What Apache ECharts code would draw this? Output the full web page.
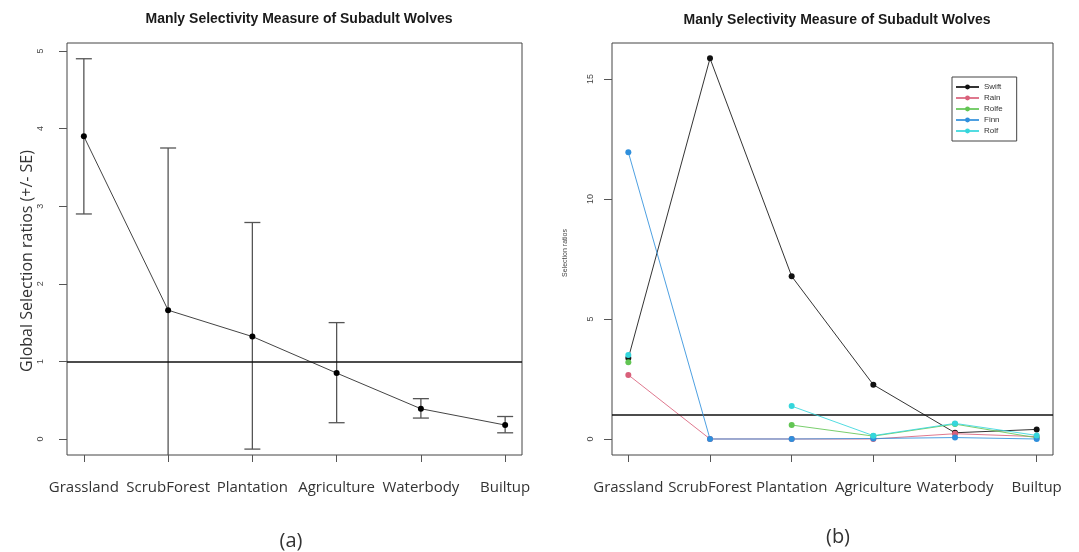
<!DOCTYPE html>
<html>
<head>
<meta charset="utf-8">
<script src="https://cdn.jsdelivr.net/npm/echarts@6/dist/echarts.min.js"></script>
<style>
  html, body { margin: 0; padding: 0; background: #fff; }
  #chart { width: 1079px; height: 552px; }
</style>
</head>
<body>
<div id="chart"></div>
<script>
// Habitat classes along the x axis
const categories = ['Grassland', 'ScrubForest', 'Plantation', 'Agriculture', 'Waterbody', 'Builtup'];

// (a) global selection ratios with +/- SE limits
const globalRatio = [3.90, 1.66, 1.32, 0.85, 0.39, 0.18];
const seUpper     = [4.90, 3.75, 2.79, 1.50, 0.52, 0.29];
const seLower     = [2.90, -0.43, -0.13, 0.21, 0.27, 0.08];

// (b) per-wolf selection ratios ('-' = no value)
const wolfNames = ['Swift', 'Rain', 'Rolfe', 'Finn', 'Rolf'];
const swift = [3.37, 15.86, 6.78, 2.26, 0.26, 0.40];
const rain  = [2.67, 0, 0, 0, 0.22, 0.10];
const rolfe = [3.20, '-', 0.58, 0.12, 0.62, 0.05];
const finn  = [11.95, 0, 0, 0.02, 0.06, 0.00];
const rolf  = [3.50, '-', 1.37, 0.14, 0.65, 0.15];
const wolfColors = ['#111111', '#d9607a', '#62c553', '#2f8fdc', '#35d6dc'];

// Tick values
const leftTicks = [0, 1, 2, 3, 4, 5];
const rightTicks = [0, 5, 10, 15];
const xTicks = categories.map((c, i) => i + 1);

const chart = echarts.init(document.getElementById('chart'));

const toXY = arr => arr.map((v, i) => [i + 1, v]);

const tickLine = { color: '#555', width: 1 };

function xAxisFor(gridIndex) {
  return {
    type: 'value', gridIndex: gridIndex, min: 0.8, max: 6.2,
    axisLine: { show: false, onZero: false },
    splitLine: { show: false },
    axisTick: { show: true, inside: false, length: 7, customValues: xTicks, lineStyle: tickLine },
    axisLabel: {
      customValues: xTicks, margin: 25,
      fontFamily: 'Open Sans', fontSize: 15, color: '#333',
      formatter: v => categories[Math.round(v) - 1] || ''
    }
  };
}

function yAxisFor(gridIndex, min, max, ticks, margin) {
  return {
    type: 'value', gridIndex: gridIndex, min: min, max: max,
    axisLine: { show: false, onZero: false },
    splitLine: { show: false },
    axisTick: { show: true, inside: false, length: 8, customValues: ticks, lineStyle: tickLine },
    axisLabel: {
      customValues: ticks, rotate: 90, margin: margin,
      fontFamily: 'Liberation Sans', fontSize: 9, color: '#444'
    }
  };
}

// Error bars with caps, clipped to the plot box
function renderErrorBar(params, api) {
  const x = api.value(0), lo = api.value(1), hi = api.value(2);
  const cs = params.coordSys;
  const top = cs.y, bottom = cs.y + cs.height;
  const pHi = api.coord([x, hi]);
  const pLo = api.coord([x, lo]);
  const half = 8;
  const style = { stroke: '#555', lineWidth: 1.3 };
  const yTop = Math.max(pHi[1], top);
  const yBot = Math.min(pLo[1], bottom);
  const children = [
    { type: 'line', shape: { x1: pHi[0], y1: yTop, x2: pLo[0], y2: yBot }, style: style }
  ];
  if (pHi[1] >= top) {
    children.push({ type: 'line', shape: { x1: pHi[0] - half, y1: pHi[1], x2: pHi[0] + half, y2: pHi[1] }, style: style });
  }
  if (pLo[1] <= bottom) {
    children.push({ type: 'line', shape: { x1: pLo[0] - half, y1: pLo[1], x2: pLo[0] + half, y2: pLo[1] }, style: style });
  }
  return { type: 'group', children: children };
}

const refLine = {
  silent: true, symbol: 'none', label: { show: false },
  lineStyle: { color: '#111', width: 1.6, type: 'solid' },
  data: [{ yAxis: 1 }]
};

const wolfSeries = [swift, rain, rolfe, finn, rolf].map((arr, k) => ({
  type: 'line', name: wolfNames[k], xAxisIndex: 1, yAxisIndex: 1,
  data: toXY(arr), connectNulls: false,
  symbol: 'circle', symbolSize: 6, showSymbol: true,
  itemStyle: { color: wolfColors[k] },
  lineStyle: { color: wolfColors[k], width: 1, opacity: 0.85 },
  emphasis: { disabled: true },
  z: 3 + k
}));

const option = {
  animation: false,
  backgroundColor: '#ffffff',
  title: [
    {
      text: 'Manly Selectivity Measure of Subadult Wolves',
      left: 294, top: 7, textAlign: 'center',
      textStyle: { fontFamily: 'Liberation Sans', fontWeight: 'bold', fontSize: 14, color: '#1a1a1a' }
    },
    {
      text: 'Manly Selectivity Measure of Subadult Wolves',
      left: 832, top: 8, textAlign: 'center',
      textStyle: { fontFamily: 'Liberation Sans', fontWeight: 'bold', fontSize: 14, color: '#1a1a1a' }
    }
  ],
  grid: [
    { left: 67, top: 43, width: 455, height: 412, show: true, borderColor: '#444', borderWidth: 1, backgroundColor: 'transparent' },
    { left: 612, top: 43, width: 441, height: 412, show: true, borderColor: '#444', borderWidth: 1, backgroundColor: 'transparent' }
  ],
  xAxis: [xAxisFor(0), xAxisFor(1)],
  yAxis: [
    yAxisFor(0, -0.206, 5.103, leftTicks, 22),
    yAxisFor(1, -0.667, 16.5, rightTicks, 17)
  ],
  legend: {
    data: wolfNames,
    orient: 'vertical',
    left: 952, top: 77,
    borderColor: '#444', borderWidth: 1,
    padding: [6, 14, 6, 3],
    itemWidth: 23, itemHeight: 6, itemGap: 3,
    backgroundColor: '#fff',
    textStyle: { fontFamily: 'Liberation Sans', fontSize: 8, color: '#333' },
    selectedMode: false
  },
  series: [
    {
      type: 'custom', xAxisIndex: 0, yAxisIndex: 0,
      renderItem: renderErrorBar,
      data: categories.map((c, i) => [i + 1, seLower[i], seUpper[i]]),
      z: 2, silent: true
    },
    {
      type: 'line', xAxisIndex: 0, yAxisIndex: 0,
      data: toXY(globalRatio),
      symbol: 'circle', symbolSize: 6,
      itemStyle: { color: '#000' },
      lineStyle: { color: '#444', width: 1 },
      markLine: refLine,
      z: 3, silent: true
    },
    {
      type: 'line', xAxisIndex: 1, yAxisIndex: 1,
      data: [], markLine: refLine, silent: true
    }
  ].concat(wolfSeries),
  graphic: [
    {
      type: 'text', x: 27, y: 261, rotation: Math.PI / 2,
      style: {
        text: 'Global Selection ratios (+/- SE)', fontFamily: 'Open Sans', fontSize: 16,
        fill: '#333', align: 'center', verticalAlign: 'middle'
      }
    },
    {
      type: 'text', x: 565, y: 253, rotation: Math.PI / 2,
      style: {
        text: 'Selection ratios', fontFamily: 'Liberation Sans', fontSize: 7,
        fill: '#444', align: 'center', verticalAlign: 'middle'
      }
    },
    {
      type: 'text', x: 291, y: 541,
      style: { text: '(a)', fontFamily: 'Open Sans', fontSize: 20, fill: '#333', align: 'center', verticalAlign: 'middle' }
    },
    {
      type: 'text', x: 838, y: 537,
      style: { text: '(b)', fontFamily: 'Open Sans', fontSize: 20, fill: '#333', align: 'center', verticalAlign: 'middle' }
    }
  ]
};

chart.setOption(option);
</script>
</body>
</html>
